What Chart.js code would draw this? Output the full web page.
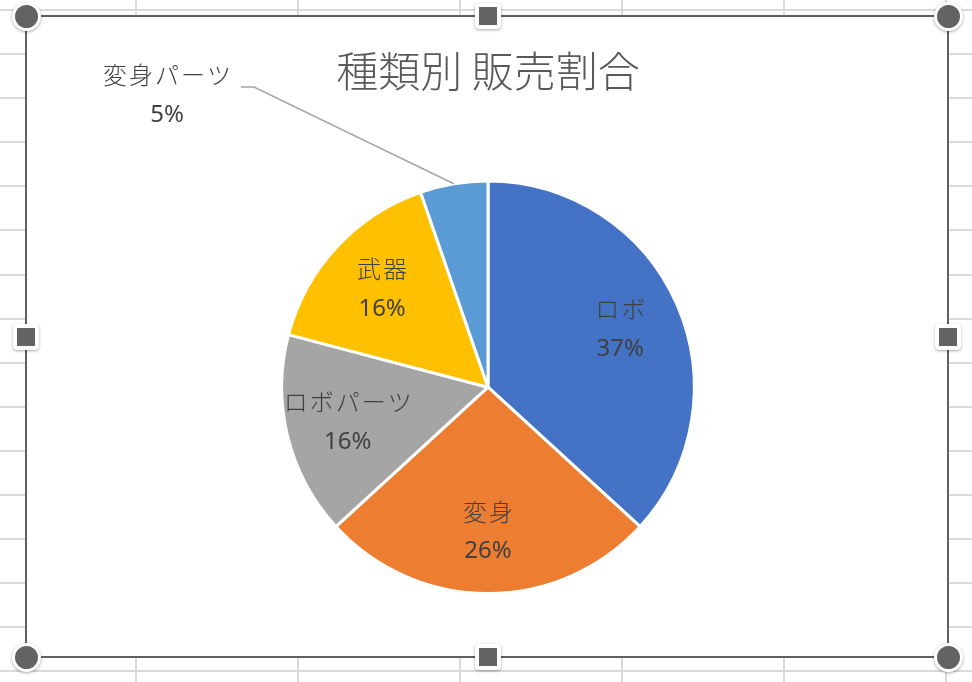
<!DOCTYPE html>
<html lang="ja">
<head>
<meta charset="utf-8">
<title>種類別 販売割合</title>
<script src="https://cdn.jsdelivr.net/npm/chart.js@4.4.1/dist/chart.umd.min.js"></script>
<style>
  html, body { margin: 0; padding: 0; }
  body {
    width: 972px; height: 682px; position: relative; overflow: hidden;
    background-color: #fff;
    background-image:
      repeating-linear-gradient(to right, transparent 0 135px, #dadada 135px 137px, transparent 137px 162px),
      repeating-linear-gradient(to bottom, transparent 0 9px, #dadada 9px 11px, transparent 11px 44.1px);
  }
  #frame {
    position: absolute; left: 25px; top: 15px;
    width: 924px; height: 643px; box-sizing: border-box;
    border: 2px solid #606060; background: #fff;
  }
  #wrap { position: relative; width: 920px; height: 639px; }
  .h { position: absolute; background: #636363; box-sizing: border-box;
       border: 3px solid #fff; box-shadow: 0 1px 3px rgba(0,0,0,0.35); }
  .c { width: 29px; height: 29px; border-radius: 50%; margin: -14.5px 0 0 -14.5px; }
  .s { width: 26px; height: 26px; border-radius: 4px; border-width: 4.5px; margin: -13px 0 0 -13px; }
</style>
</head>
<body>
<div id="frame"><div id="wrap"><canvas id="myChart"></canvas></div></div>
<div class="h c" style="left:26px;top:16px"></div>
<div class="h c" style="left:948px;top:16px"></div>
<div class="h c" style="left:26px;top:657px"></div>
<div class="h c" style="left:948px;top:657px"></div>
<div class="h s" style="left:488px;top:16px"></div>
<div class="h s" style="left:488px;top:657px"></div>
<div class="h s" style="left:26px;top:337px"></div>
<div class="h s" style="left:948px;top:337px"></div>
<script>
// データ
var categories = ['ロボ', '変身', 'ロボパーツ', '武器', '変身パーツ'];
var values = [36.8, 26.4, 15.9, 15.6, 5.3];
var colors = ['#4472C4', '#ED7D31', '#A5A5A5', '#FFC000', '#5B9BD5'];

var jpFont = '"Noto Sans CJK JP", "Noto Sans", sans-serif';
var numFont = '"Noto Sans", "Noto Sans CJK JP", sans-serif';

// 外側ラベル（吹き出し）の位置
var calloutX = 140;
var calloutY = 78;

// ラベルを描くプラグイン
var sliceLabels = {
  id: 'sliceLabels',
  afterDatasetsDraw: function(chart) {
    var ctx = chart.ctx;
    var meta = chart.getDatasetMeta(0);
    var total = values.reduce(function(a, b) { return a + b; }, 0);
    ctx.save();
    ctx.textAlign = 'center';
    ctx.textBaseline = 'middle';
    ctx.fillStyle = '#404040';
    meta.data.forEach(function(arc, i) {
      var p = arc.getProps(['x', 'y', 'startAngle', 'endAngle', 'outerRadius'], true);
      var mid = (p.startAngle + p.endAngle) / 2;
      var share = values[i] / total;
      var pct = Math.round(share * 100) + '%';
      var lx, ly;
      ctx.font = '300 24px ' + jpFont;
      ctx.letterSpacing = '2px';
      if (share < 0.1) {
        lx = calloutX;
        ly = calloutY;
        var w = ctx.measureText(categories[i]).width;
        var ex = p.x + Math.cos(mid) * p.outerRadius;
        var ey = p.y + Math.sin(mid) * p.outerRadius;
        ctx.beginPath();
        ctx.strokeStyle = '#A6A6A6';
        ctx.lineWidth = 1.5;
        ctx.moveTo(lx + w / 2 + 9, ly - 8);
        ctx.lineTo(lx + w / 2 + 22, ly - 8);
        ctx.lineTo(ex, ey);
        ctx.stroke();
      } else {
        lx = p.x + Math.cos(mid) * p.outerRadius * 0.7;
        ly = p.y + Math.sin(mid) * p.outerRadius * 0.7;
      }
      ctx.fillText(categories[i], lx + 1, ly - 20);
      ctx.letterSpacing = '0px';
      ctx.font = '24px ' + numFont;
      ctx.fillText(pct, lx, ly + 20);
    });
    ctx.restore();
  }
};

var ctx = document.getElementById('myChart');
var myChart = new Chart(ctx, {
  type: 'pie',
  data: {
    labels: categories,
    datasets: [{
      data: values,
      backgroundColor: colors,
      borderColor: '#ffffff',
      borderWidth: 3
    }]
  },
  options: {
    responsive: true,
    maintainAspectRatio: false,
    animation: false,
    layout: { padding: { top: 0, bottom: 61, left: 2, right: 0 } },
    plugins: {
      legend: { display: false },
      tooltip: { enabled: false },
      title: {
        display: true,
        text: '種類別 販売割合',
        color: '#595959',
        font: { family: jpFont, size: 42, weight: '300', lineHeight: 1.2 },
        padding: { top: 29, bottom: 83 }
      }
    }
  },
  plugins: [sliceLabels]
});
</script>
</body>
</html>
